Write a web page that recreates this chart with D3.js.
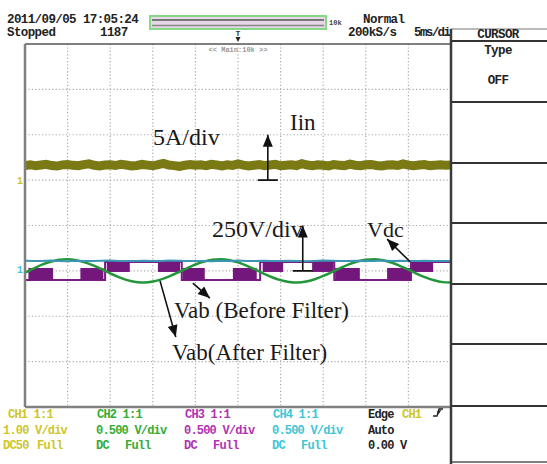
<!DOCTYPE html>
<html><head><meta charset="utf-8">
<script src="https://cdn.jsdelivr.net/npm/d3@7"></script>
<style>
html,body{margin:0;padding:0;background:#fff;}
svg{display:block;}
.scr{font-family:"Liberation Mono",monospace;font-weight:bold;}
.ann{font-family:"Liberation Serif","Times New Roman",serif;fill:#1a1a1a;}
</style></head><body>
<svg id="scope" width="547" height="464"></svg>
<script>
// Screen: 10 divisions of 5 ms across, 8 divisions down
const timeDomain = [-25, 25];          // ms
const divDomain = [-4, 4];
const gridCols = d3.range(-25, 25.01, 5);
const gridRows = d3.range(-4, 4.01, 1);

// CH1: input current Iin (A), 5 A/div, ground marker +1 div
const iinScale = 5, iinGround = 1;
const iinValues = [1.62,1.70,1.58,1.66,1.74,1.60,1.55,1.68,1.72,1.63,1.59,1.71,1.80,1.64,1.57,1.66,
  1.69,1.61,1.75,1.67,1.56,1.62,1.73,1.65,1.58,1.70,1.84,1.66,1.60,1.52,1.64,1.71,1.63,1.68,1.59,1.74,
  1.66,1.57,1.69,1.62,1.78,1.65,1.55,1.63,1.72,1.60,1.67,1.74,1.58,1.64,1.70,1.61,1.82,1.66,1.59,1.68,
  1.63,1.57,1.71,1.65,1.60,1.76,1.64,1.58,1.69,1.73,1.62,1.56,1.67,1.70,1.61,1.79,1.65,1.59,1.66,1.72,
  1.60,1.64,1.69,1.63,1.67];

// Voltage channels (V), 250 V/div, ground marker -1 div
const voltScale = 250, voltGround = -1;
const vdcValues = [56,54,55,57,55,53,56,55,54,56,57,55,54,55,56,54,55,57,56,54,55,55,53,56,55,57,
  54,55,56,55,54,56,55,53,55,57,56,54,55,56,55,54,57,55,56,54,55,56,55,54,55];
// Vab after filter, one sample per ms from -25 ms
const vabFiltered = [-9,13,34,50,61,64,59,47,30,9,-14,-34,-51,-61,-64,-59,-47,-29,-8,14,35,51,61,64,
  59,47,29,8,-15,-35,-51,-61,-64,-59,-46,-28,-7,15,36,52,61,64,58,46,28,7,-16,-36,-52,-62,-64];

// Vab before filter: half cycles (ms) with polarity, and switching bursts
const halfCycleEdges = [-25, -15.6, -6.6, 2.6, 11.3, 20.3, 25];
const halfCyclePolarity = [-1, 1, -1, 1, -1, 1];
const burstStart = [-24.6, -18.5, -15.4, -9.4, -6.5, -0.6, 2.9, 8.7, 11.4, 17.5, 20.4];
const burstEnd   = [-21.7, -15.8, -12.7, -6.8, -3.9, 2.2, 5.3, 11.2, 14.3, 20.2, 22.9];
const burstPolarity = [-1, -1, 1, 1, -1, -1, 1, 1, -1, -1, 1];
const pwmHigh = 49, pwmLow = -50;
const burstHighSpan = [-6, 49], burstLowSpan = [-50, 16];

// Channel settings footer
const chNames = ["CH1 1:1", "CH2 1:1", "CH3 1:1", "CH4 1:1"];
const chVdiv = ["1.00 V/div", "0.500 V/div", "0.500 V/div", "0.500 V/div"];
const chCoupling = [["DC50", "Full"], ["DC", "Full"], ["DC", "Full"], ["DC", "Full"]];
const chColors = ["#cdc62a", "#33ad35", "#b032b2", "#3ec6d6"];

const svg = d3.select("#scope");
const L = 25, R = 451, T = 44, B = 407;
const x = d3.scaleLinear().domain(timeDomain).range([L, R]);
const yDiv = d3.scaleLinear().domain(divDomain).range([B, T]);
const yIin = v => yDiv(iinGround + v / iinScale);
const yVolt = v => yDiv(voltGround + v / voltScale);

svg.append("rect").attr("width", 547).attr("height", 464).attr("fill", "#fff");

// dotted graticule
const grid = svg.append("g").attr("stroke", "#aaa").attr("stroke-width", 1.2)
  .attr("stroke-dasharray", "1.2,2.2");
grid.selectAll(".gv").data(gridCols.slice(1, -1)).join("line")
  .attr("x1", d => x(d)).attr("x2", d => x(d)).attr("y1", T).attr("y2", B);
grid.selectAll(".gh").data(gridRows.slice(1, -1)).join("line")
  .attr("y1", d => yDiv(d)).attr("y2", d => yDiv(d)).attr("x1", L).attr("x2", R);

svg.append("defs").append("clipPath").attr("id", "plotClip")
  .append("rect").attr("x", L).attr("y", T).attr("width", R - L).attr("height", B - T);
const traces = svg.append("g").attr("clip-path", "url(#plotClip)");

// Iin
const iinDt = (timeDomain[1] - timeDomain[0]) / (iinValues.length - 1);
traces.append("path").datum(iinValues)
  .attr("d", d3.line().x((d, i) => x(timeDomain[0] + i * iinDt)).y(d => yIin(d)))
  .attr("fill", "none").attr("stroke", "#7b7913").attr("stroke-width", 9)
  .attr("stroke-linejoin", "miter");

// Vab before filter: level between bursts
const stepPts = [];
halfCyclePolarity.forEach((p, i) => {
  const v = p > 0 ? pwmHigh : pwmLow;
  stepPts.push([halfCycleEdges[i], v], [halfCycleEdges[i + 1], v]);
});
traces.append("path").datum(stepPts)
  .attr("d", d3.line().x(d => x(d[0])).y(d => yVolt(d[1])))
  .attr("fill", "none").attr("stroke", "#7a1a82").attr("stroke-width", 2);
traces.selectAll(".burst").data(burstStart).join("rect")
  .attr("x", (d, i) => x(d))
  .attr("width", (d, i) => x(burstEnd[i]) - x(d))
  .attr("y", (d, i) => yVolt((burstPolarity[i] > 0 ? burstHighSpan : burstLowSpan)[1]))
  .attr("height", (d, i) => {
    const s = burstPolarity[i] > 0 ? burstHighSpan : burstLowSpan;
    return yVolt(s[0]) - yVolt(s[1]);
  })
  .attr("fill", "#74177c");

// Vab after filter
traces.append("path").datum(vabFiltered)
  .attr("d", d3.line().x((d, i) => x(timeDomain[0] + i)).y(d => yVolt(d)).curve(d3.curveMonotoneX))
  .attr("fill", "none").attr("stroke", "#23963a").attr("stroke-width", 2.5);

// Vdc
const vdcDt = (timeDomain[1] - timeDomain[0]) / (vdcValues.length - 1);
traces.append("path").datum(vdcValues)
  .attr("d", d3.line().x((d, i) => x(timeDomain[0] + i * vdcDt)).y(d => yVolt(d)))
  .attr("fill", "none").attr("stroke", "#3b95b5").attr("stroke-width", 2);

// frame
svg.append("line").attr("x1", L).attr("x2", R).attr("y1", T).attr("y2", T)
  .attr("stroke", "#555").attr("stroke-width", 1.5);
svg.append("line").attr("x1", L).attr("x2", L).attr("y1", T).attr("y2", B)
  .attr("stroke", "#808080").attr("stroke-width", 2.5);
svg.append("line").attr("x1", L).attr("x2", R).attr("y1", B).attr("y2", B)
  .attr("stroke", "#808080").attr("stroke-width", 2.5);

// ground markers
svg.append("text").attr("class", "scr").attr("x", 20).attr("y", yDiv(iinGround) + 4)
  .attr("text-anchor", "middle").attr("font-size", 10).attr("fill", "#cdc62a").text("1");
svg.append("text").attr("class", "scr").attr("x", 20).attr("y", yDiv(voltGround) + 2)
  .attr("text-anchor", "middle").attr("font-size", 10).attr("fill", "#3ec6d6").text("1");

// header
const hdr = svg.append("g").attr("class", "scr").attr("font-size", 12.5)
  .attr("letter-spacing", -0.6).attr("fill", "#222");
hdr.append("text").attr("x", 7).attr("y", 23).text("2011/09/05 17:05:24");
hdr.append("text").attr("x", 7).attr("y", 36).text("Stopped");
hdr.append("text").attr("x", 100).attr("y", 36).text("1187");
hdr.append("text").attr("x", 363).attr("y", 23).text("Normal");
hdr.append("text").attr("x", 348).attr("y", 36).text("200kS/s");
hdr.append("text").attr("x", 414).attr("y", 36).attr("letter-spacing", -1.6).text("5ms/div");

// record-length bar
svg.append("rect").attr("x", 150).attr("y", 16).attr("width", 176).attr("height", 13)
  .attr("fill", "#e6d6e6").attr("stroke", "#86d886").attr("stroke-width", 2);
svg.append("line").attr("x1", 152).attr("x2", 324).attr("y1", 20).attr("y2", 20)
  .attr("stroke", "#777").attr("stroke-width", 2);
svg.append("line").attr("x1", 152).attr("x2", 324).attr("y1", 25.5).attr("y2", 25.5)
  .attr("stroke", "#888").attr("stroke-width", 1.5);
svg.append("text").attr("class", "scr").attr("x", 329).attr("y", 25).attr("font-size", 7)
  .attr("fill", "#444").text("10k");
// trigger point marker and zoom caption
svg.append("text").attr("class", "scr").attr("x", x(0)).attr("y", 36).attr("font-size", 8)
  .attr("text-anchor", "middle").attr("fill", "#333").text("T");
svg.append("path").attr("d", `M${x(0) - 2.5},37 L${x(0) + 2.5},37 L${x(0)},42 Z`).attr("fill", "#222");
svg.append("text").attr("class", "scr").attr("x", x(0)).attr("y", 52).attr("font-size", 7)
  .attr("font-weight", "normal").attr("text-anchor", "middle").attr("fill", "#999")
  .text("<< Main:10k >>");

// right-hand menu panel
const P = svg.append("g");
P.append("rect").attr("x", 451).attr("y", 29).attr("width", 96).attr("height", 433).attr("fill", "#fff");
P.append("line").attr("x1", 445).attr("x2", 451).attr("y1", 35).attr("y2", 35).attr("stroke", "#333").attr("stroke-width", 1.5);
P.append("line").attr("x1", 451).attr("x2", 547).attr("y1", 29).attr("y2", 29).attr("stroke", "#777").attr("stroke-width", 1);
[41, 102, 163, 223, 284, 344, 406].forEach(yy =>
  P.append("line").attr("x1", 451).attr("x2", 547).attr("y1", yy).attr("y2", yy)
    .attr("stroke", "#333").attr("stroke-width", 2));
P.append("line").attr("x1", 451).attr("x2", 547).attr("y1", 462).attr("y2", 462).attr("stroke", "#555").attr("stroke-width", 1.5);
P.append("line").attr("x1", 451).attr("x2", 451).attr("y1", 29).attr("y2", 464).attr("stroke", "#3a3a3a").attr("stroke-width", 2.5);
const pt = P.append("g").attr("class", "scr").attr("font-size", 12.5).attr("letter-spacing", -0.6)
  .attr("text-anchor", "middle").attr("fill", "#222");
pt.append("text").attr("x", 498).attr("y", 38).text("CURSOR");
pt.append("text").attr("x", 498).attr("y", 54).text("Type");
pt.append("text").attr("x", 498).attr("y", 84).text("OFF");

// channel settings footer
const colX = [8, 97, 185, 273];
const foot = svg.append("g").attr("class", "scr").attr("font-size", 12).attr("letter-spacing", -0.8);
chNames.forEach((n, i) => {
  const g = foot.append("g").attr("fill", chColors[i]);
  g.append("text").attr("x", colX[i]).attr("y", 418).text(n);
  g.append("text").attr("x", i === 0 ? 3 : colX[i] - 1).attr("y", 434).text(chVdiv[i]);
  g.append("text").attr("x", i === 0 ? 3 : colX[i] - 1).attr("y", 449).text(chCoupling[i][0]);
  g.append("text").attr("x", i === 0 ? 37 : colX[i] + 28).attr("y", 449).text(chCoupling[i][1]);
});
foot.append("text").attr("x", 368).attr("y", 418).attr("fill", "#222").text("Edge");
foot.append("text").attr("x", 402).attr("y", 418).attr("fill", chColors[0]).text("CH1");
// rising-edge trigger slope symbol
foot.append("path").attr("d", "M433,416 L437,416 L439,409 L443,409 M437,412 L440,411 L438,414")
  .attr("fill", "none").attr("stroke", "#222").attr("stroke-width", 1.3);
foot.append("text").attr("x", 368).attr("y", 434).attr("fill", "#222").text("Auto");
foot.append("text").attr("x", 368).attr("y", 449).attr("fill", "#222").text("0.00 V");

// annotations
const ann = svg.append("g");
function arrowHead(tipX, tipY, fromX, fromY, len, half) {
  const a = Math.atan2(tipY - fromY, tipX - fromX);
  const bx = tipX - len * Math.cos(a), by = tipY - len * Math.sin(a);
  const nx = -Math.sin(a) * half, ny = Math.cos(a) * half;
  ann.append("path").attr("d", `M${tipX},${tipY} L${bx + nx},${by + ny} L${bx - nx},${by - ny} Z`)
    .attr("fill", "#111");
}
function arrow(t0, d0, t1, d1) {
  const x0 = x(t0), y0 = yDiv(d0), x1 = x(t1), y1 = yDiv(d1);
  ann.append("line").attr("x1", x0).attr("y1", y0).attr("x2", x1).attr("y2", y1)
    .attr("stroke", "#111").attr("stroke-width", 1.6);
  arrowHead(x1, y1, x0, y0, 12, 5);
}
function scaleArrow(t, d0, d1) {
  const xx = x(t);
  ann.append("line").attr("x1", xx - 10).attr("x2", xx + 10).attr("y1", yDiv(d0)).attr("y2", yDiv(d0))
    .attr("stroke", "#111").attr("stroke-width", 1.8);
  arrow(t, d0, t, d1);
}
scaleArrow(3.5, 1, 2);
scaleArrow(7.6, -1, 0);
arrow(20.2, -0.80, 17.5, -0.30);
arrow(-5.3, -1.27, -3.3, -1.60);
arrow(-9.15, -1.22, -7.3, -2.46);

ann.append("text").attr("class", "ann").attr("x", 153).attr("y", 145).attr("font-size", 24).text("5A/div");
ann.append("text").attr("class", "ann").attr("x", 290).attr("y", 130).attr("font-size", 23).text("Iin");
ann.append("text").attr("class", "ann").attr("x", 212).attr("y", 237).attr("font-size", 24).text("250V/div");
ann.append("text").attr("class", "ann").attr("x", 367).attr("y", 237).attr("font-size", 22).text("Vdc");
ann.append("text").attr("class", "ann").attr("x", 174).attr("y", 318).attr("font-size", 23).text("Vab (Before Filter)");
ann.append("text").attr("class", "ann").attr("x", 172).attr("y", 360).attr("font-size", 23).text("Vab(After Filter)");
</script>
</body></html>
